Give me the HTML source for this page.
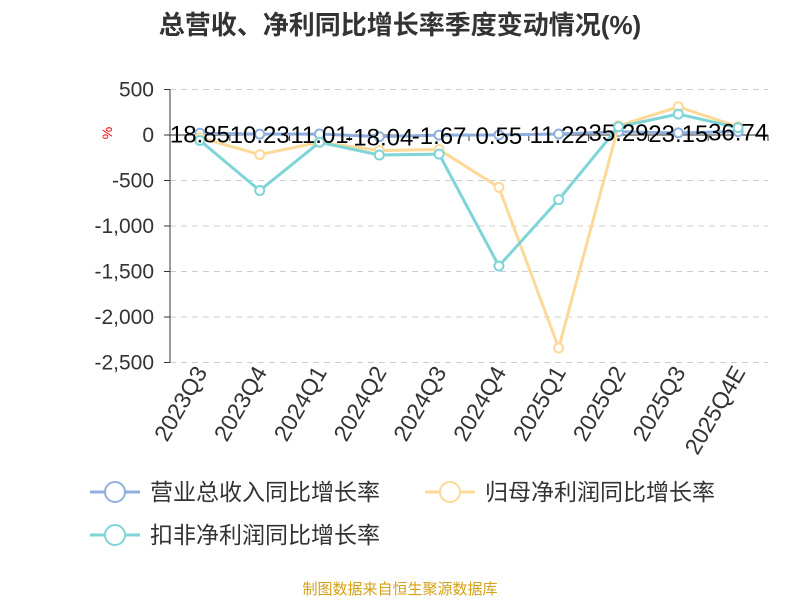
<!DOCTYPE html>
<html><head><meta charset="utf-8"><style>
body{margin:0;background:#fff;}
svg text{font-family:"Liberation Sans","Noto Sans CJK SC",sans-serif;}
</style></head><body>
<svg id="c" width="800" height="600">
<text x="400" y="34" text-anchor="middle" font-size="26" font-weight="bold" fill="#333">总营收、净利同比增长率季度变动情况(%)</text>
<text x="108" y="137" font-size="14" fill="#e00" text-anchor="middle" transform="rotate(-90 108 133)">%</text>
<text x="400" y="594" text-anchor="middle" font-size="15" fill="#d4a017">制图数据来自恒生聚源数据库</text>
</svg>
<script>
const categories=["2023Q3","2023Q4","2024Q1","2024Q2","2024Q3","2024Q4","2025Q1","2025Q2","2025Q3","2025Q4E"];
const revenue=[18.85,10.23,11.01,-18.04,-1.67,0.55,11.22,35.29,23.15,36.74];
const netProfit=[-30,-215,-80,-170,-160,-575,-2340,100,310,90];
const deducted=[-60,-610,-80,-220,-210,-1440,-710,90,230,80];
const yTicks=[500,0,-500,-1000,-1500,-2000,-2500];
const revLabels=["18.85","10.23","11.01","-18.04","-1.67","0.55","11.22","35.29","23.15","36.74"];
const svg=document.getElementById('c');const NS='http://www.w3.org/2000/svg';
const x0=170,x1=768,y0v=135,pxPer=(362-89)/3000;
const xs=i=>x0+(x1-x0)/categories.length*(i+0.5);
const ys=v=>y0v-v*pxPer;
function mk(t,a,p){const e=document.createElementNS(NS,t);for(const k in a)e.setAttribute(k,a[k]);(p||svg).appendChild(e);return e;}
const fmt=v=>{const s=Math.abs(v)>=1000?Math.abs(v).toLocaleString('en-US'):String(Math.abs(v));return v<0?'-'+s:s;};
yTicks.forEach(v=>{
 if(v!==0){const g=mk('line',{x1:x0,x2:x1,y1:ys(v),y2:ys(v),stroke:'#ccc','stroke-dasharray':'6,5'});
 
 }
 const t=mk('text',{x:x0-16,y:ys(v)+7,'text-anchor':'end','font-size':21,fill:'#333'});t.textContent=fmt(v);
 
 
 mk('line',{x1:x0-6,x2:x0,y1:ys(v),y2:ys(v),stroke:'#333'});
});
const ya=mk('line',{x1:x0,x2:x0,y1:ys(500),y2:ys(-2500),stroke:'#333'});


const xa=mk('line',{x1:x0,x2:x1,y1:ys(0),y2:ys(0),stroke:'#333'});


categories.forEach((c,i)=>{
 const tx=x0+(x1-x0)/categories.length*(i+1);
 mk('line',{x1:tx,x2:tx,y1:ys(0),y2:ys(0)+6,stroke:'#333'});
 const t=mk('text',{x:xs(i)+8,y:372,'text-anchor':'end','font-size':23,fill:'#333',transform:`rotate(-60 ${xs(i)+8} 372)`});t.textContent=c;
 
 
});
function series(data,color,name){
 const p=mk('polyline',{points:data.map((v,i)=>xs(i)+','+ys(v)).join(' '),fill:'none',stroke:color,'stroke-width':3});
 
 
 data.forEach((v,i)=>{const c=mk('circle',{cx:xs(i),cy:ys(v),r:4.5,fill:'#fff',stroke:color,'stroke-width':2});
 
 });
}
series(revenue,'#8fb0dd','revenue');
series(netProfit,'#fdd999','net-profit');
series(deducted,'#7fd4d8','deducted-profit');
revenue.forEach((v,i)=>{const t=mk('text',{x:xs(i),y:ys(v)+9,'text-anchor':'middle','font-size':24,fill:'#000'});t.textContent=revLabels[i];
 
 });
const legend=[["营业总收入同比增长率","#8fb0dd",90,492],["归母净利润同比增长率","#fdd999",425,492],["扣非净利润同比增长率","#7fd4d8",90,535]];
legend.forEach(l=>{const g=mk('g',{});
 
 
 mk('line',{x1:l[2],x2:l[2]+50,y1:l[3],y2:l[3],stroke:l[1],'stroke-width':3},g);
 mk('circle',{cx:l[2]+25,cy:l[3],r:10,fill:'#fff',stroke:l[1],'stroke-width':2},g);
 const t=mk('text',{x:l[2]+60,y:l[3]+8,'font-size':23,fill:'#333'},g);t.textContent=l[0];});
</script>
</body></html>
